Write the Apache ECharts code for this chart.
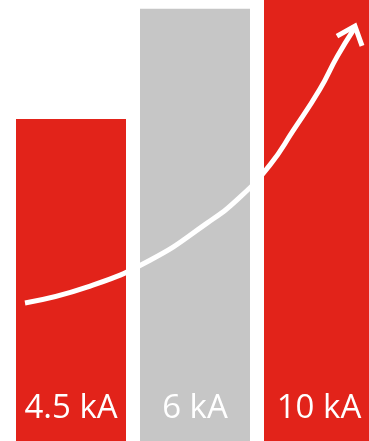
<!DOCTYPE html>
<html>
<head>
<meta charset="utf-8">
<script src="https://cdn.jsdelivr.net/npm/echarts@6/dist/echarts.min.js"></script>
<style>
  html, body { margin: 0; padding: 0; background: #fff; overflow: hidden; }
  #chart { width: 369px; height: 441px; }
</style>
</head>
<body>
<div id="chart"></div>
<script>
// bar labels and relative bar heights (percent of chart height)
var categories = ["4.5 kA", "6 kA", "10 kA"];
var barHeights = [73, 98, 100];
var barColors = ["#e2231a", "#c6c6c6", "#e2231a"];

// arrow path, x in category-band units (0..3), y in percent
var arrowX = [0.129, 0.629, 1.137, 1.597, 1.863, 2.105, 2.290, 2.508, 2.645, 2.782];
var arrowY = [31.3, 34.9, 41.0, 49.4, 55.3, 62.6, 70.3, 79.8, 87.1, 93.4];
var headX = [2.645, 2.790, 2.847];
var headY = [91.8, 94.1, 89.6];

function pairs(xs, ys) {
  return xs.map(function (x, i) { return [x, ys[i]]; });
}

var chart = echarts.init(document.getElementById("chart"));
chart.setOption({
  animation: false,
  grid: { left: 9, width: 372, top: 0, bottom: 0, outerBoundsMode: "none" },
  xAxis: [
    { type: "category", data: categories, show: false },
    { type: "value", min: 0, max: 3, show: false }
  ],
  yAxis: { type: "value", min: 0, max: 100, show: false },
  series: [
    {
      type: "bar",
      barWidth: 110,
      data: barHeights.map(function (v, i) {
        return { value: v, itemStyle: { color: barColors[i] } };
      }),
      label: {
        show: true,
        position: "insideBottom",
        distance: 16,
        color: "#fff",
        fontFamily: "Open Sans",
        fontSize: 33,
        formatter: function (p) { return categories[p.dataIndex]; }
      }
    },
    {
      type: "line",
      xAxisIndex: 1,
      smooth: 0.5,
      symbol: "none",
      lineStyle: { color: "#fff", width: 5 },
      data: pairs(arrowX, arrowY)
    },
    {
      type: "line",
      xAxisIndex: 1,
      symbol: "none",
      lineStyle: { color: "#fff", width: 5, join: "miter" },
      data: pairs(headX, headY)
    }
  ]
});
</script>
</body>
</html>
